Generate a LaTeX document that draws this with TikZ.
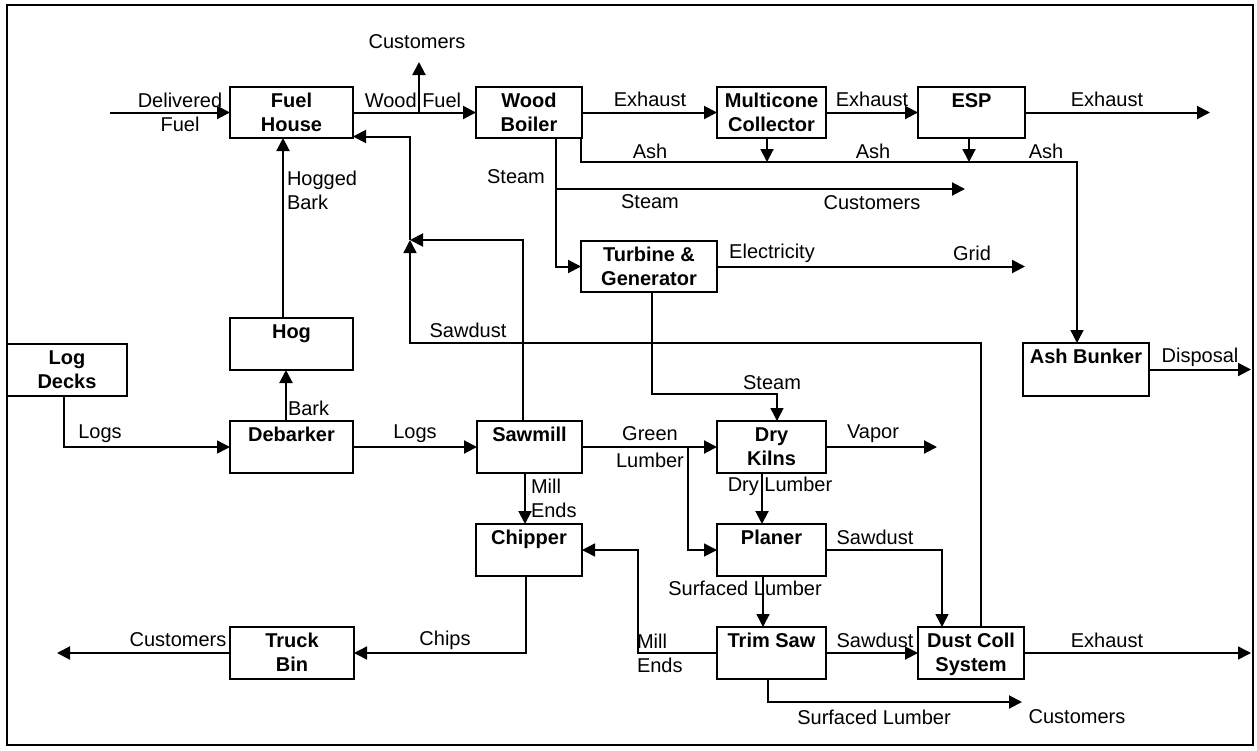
\documentclass[tikz,border=0pt]{standalone}
\usepackage{fontspec}
\setmainfont{Liberation Sans}
\usetikzlibrary{arrows.meta}
\newcommand\boxtxt[3]{\parbox[c][#2pt][t]{#1pt}{\centering\rule{0pt}{20pt}#3}}
\begin{document}
\begin{tikzpicture}[x=1pt,y=-1pt,
  every node/.style={font=\fontsize{20}{24}\selectfont, inner sep=0pt, outer sep=0pt},
  box/.style={draw, line width=2.6pt, font=\fontsize{20}{24}\selectfont\bfseries},
  lbl/.style={align=center},
  lbll/.style={align=left, anchor=west},
  arr/.style={line width=2pt, -{Triangle[length=13pt,width=13pt]}},
  thin/.style={line width=1.5pt}]
\useasboundingbox (0,0) rectangle (1257,750);
\draw[line width=1.6pt] (7,5) rectangle (1253,745);

% boxes
\node[box] (fuel) at (291.5,112.5) {\boxtxt{123}{51}{Fuel\\House}};
\node[box] (boiler) at (529,112.5) {\boxtxt{106}{51}{Wood\\Boiler}};
\node[box] (multi) at (771.5,112.5) {\boxtxt{109}{51}{Multicone\\Collector}};
\node[box] (esp) at (971.5,112.5) {\boxtxt{107}{51}{ESP}};
\node[box] (turbine) at (649,266.5) {\boxtxt{136}{51}{Turbine \&\\Generator}};
\node[box] (hog) at (291.5,344) {\boxtxt{123}{52}{Hog}};
\node[box] (logdecks) at (67,370) {\boxtxt{120}{52}{Log\\Decks}};
\node[box] (ashbunker) at (1086,369.5) {\boxtxt{126}{53}{Ash Bunker}};
\node[box] (debarker) at (291.5,447) {\boxtxt{123}{52}{Debarker}};
\node[box] (sawmill) at (529.5,447) {\boxtxt{105}{52}{Sawmill}};
\node[box] (drykilns) at (771.5,447) {\boxtxt{109}{52}{Dry\\Kilns}};
\node[box] (chipper) at (529,550) {\boxtxt{106}{52}{Chipper}};
\node[box] (planer) at (771.5,550) {\boxtxt{109}{52}{Planer}};
\node[box] (truckbin) at (292,653) {\boxtxt{124}{52}{Truck\\Bin}};
\node[box] (trimsaw) at (771.5,653) {\boxtxt{109}{52}{Trim Saw}};
\node[box] (dust) at (971,653) {\boxtxt{106}{52}{Dust Coll\\System}};

% free ends and waypoints
\coordinate (dfin) at (110,112.5);
\coordinate (wfj) at (419,112.5);
\coordinate (cust1) at (419,62);
\coordinate (exh1) at (1210,112.5);
\coordinate (ashc) at (1077,162);
\coordinate (st1) at (556,189);
\coordinate (stc) at (965,189);
\coordinate (grid) at (1025,266.5);
\coordinate (tk) at (652,394);
\coordinate (tk2) at (777,394);
\coordinate (disp) at (1251,369.5);
\coordinate (gl) at (688,447);
\coordinate (vap) at (937,447);
\coordinate (me) at (638,550);
\coordinate (exh2) at (1251,653);
\coordinate (sdB) at (410,343);
\coordinate (sdJ) at (410,240);
\coordinate (cust3) at (57,653);
\coordinate (cust4) at (1022,702);

% connectors
\draw[arr] (dfin) -- (fuel.west);
\draw[arr] (fuel.east) -- (boiler.west);
\draw[arr] (wfj) -- (cust1);
\draw[arr] (boiler.east) -- (multi.west);
\draw[arr] (multi.east) -- (esp.west);
\draw[arr] (esp.east) -- (exh1);
\draw[arr, thin] ([xshift=-1pt]boiler.south east) |- (ashc) -- (ashc |- ashbunker.north);
\draw[arr] ([xshift=-4.5pt]multi.south) -- ([xshift=-4.5pt]multi.south |- ashc);
\draw[arr] ([xshift=-2.5pt]esp.south) -- ([xshift=-2.5pt]esp.south |- ashc);
\draw[arr] (boiler.south -| st1) |- (turbine.west);
\draw[arr] (st1) -- (stc);
\draw[arr] (turbine.east) -- (grid);
\draw[arr, thin] (turbine.south -| tk) |- (tk2) -- (tk2 |- drykilns.north);
\draw[arr] (ashbunker.east) -- (disp);
\draw[arr, thin] ([xshift=-3pt]logdecks.south) |- (debarker.west);
\draw[arr] ([xshift=-5.5pt]debarker.north) -- ([xshift=-5.5pt]hog.south);
\draw[arr] ([xshift=-8.5pt]hog.north) -- ([xshift=-8.5pt]fuel.south);
\draw[arr] (debarker.east) -- (sawmill.west);
\draw[arr] (sawmill.east) -- (drykilns.west);
\draw[arr, thin] (gl) |- (planer.west);
\draw[arr] (drykilns.east) -- (vap);
\draw[arr] ([xshift=-9.5pt]drykilns.south) -- ([xshift=-9.5pt]planer.north);
\draw[arr] ([xshift=-4.5pt]sawmill.south) -- ([xshift=-4pt]chipper.north);
\draw[arr, thin] ([xshift=-8.5pt]planer.south) -- ([xshift=-8.5pt]trimsaw.north);
\draw[arr, thin] (trimsaw.west) -| (me) -- (chipper.east);
\draw[arr] (trimsaw.east) -- (dust.west);
\draw[arr, thin] (planer.east) -| ([xshift=-29pt]dust.north);
\draw[arr, thin] (dust.east) -- (exh2);
\draw[arr, thin] ([xshift=10pt]dust.north) |- (sdB) -- (sdJ);
\draw[arr] ([xshift=-6.5pt]sawmill.north) |- (sdJ);
\draw[arr] (sdJ) |- ([yshift=-24pt]fuel.east);
\draw[arr, thin] ([xshift=-3pt]chipper.south) |- (truckbin.east);
\draw[arr] (truckbin.west) -- (cust3);
\draw[arr] ([xshift=-3.5pt]trimsaw.south) |- (cust4);

% labels
\node[lbl] at (417,42) {Customers};
\node[lbl] at (180,112) {Delivered\\Fuel};
\node[lbl] at (413,100) {Wood Fuel};
\node[lbl] at (650,99) {Exhaust};
\node[lbl] at (872,99) {Exhaust};
\node[lbl] at (1107,99) {Exhaust};
\node[lbl] at (650,151) {Ash};
\node[lbl] at (873,151) {Ash};
\node[lbl] at (1046,151) {Ash};
\node[lbl] at (516,177) {Steam};
\node[lbl] at (650,202) {Steam};
\node[lbl] at (872,203) {Customers};
\node[lbll] at (287,190) {Hogged\\Bark};
\node[lbl] at (772,253) {Electricity};
\node[lbl] at (972,253) {Grid};
\node[lbl] at (468,330) {Sawdust};
\node[lbl] at (772,383) {Steam};
\node[lbl] at (1200,357) {Disposal};
\node[lbl] at (100,434) {Logs};
\node[lbll] at (288,408) {Bark};
\node[lbl] at (415,434) {Logs};
\node[lbl] at (650,434) {Green};
\node[lbl] at (650,460) {Lumber};
\node[lbl] at (873,434) {Vapor};
\node[lbl] at (780,486) {Dry Lumber};
\node[lbll] at (531,498.5) {Mill\\Ends};
\node[lbl] at (875,537) {Sawdust};
\node[lbl] at (745,588) {Surfaced Lumber};
\node[lbll] at (637,653) {Mill\\Ends};
\node[lbl] at (875,640) {Sawdust};
\node[lbl] at (1107,640) {Exhaust};
\node[lbl] at (445,640) {Chips};
\node[lbl] at (178,640) {Customers};
\node[lbl] at (874,717) {Surfaced Lumber};
\node[lbl] at (1077,717) {Customers};
\end{tikzpicture}
\end{document}
